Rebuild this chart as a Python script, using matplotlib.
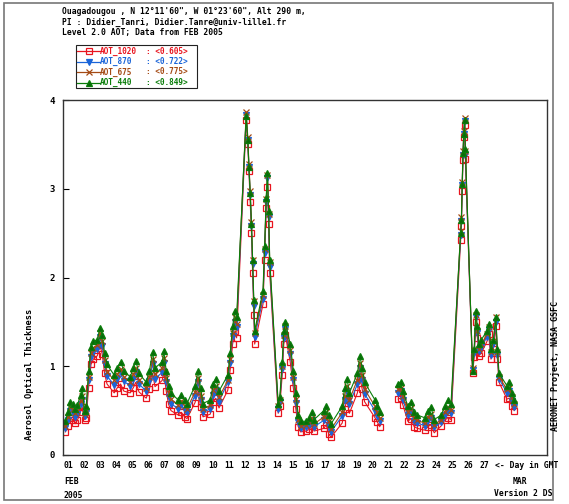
import numpy as np
import matplotlib
matplotlib.use("Agg")
import matplotlib.pyplot as plt
from matplotlib.patches import Rectangle

# time in days since 2005-02-01 00:00 GMT (NaN = data gap)
t = [0.15, 0.3, 0.45, 0.6, 0.75, 0.9,
     1.1, 1.2, 1.35, 1.45, 1.6, 1.75, 1.9,
     2.15, 2.3, 2.45, 2.6, 2.75,
     3.2, 3.4, 3.6, 3.8,
     4.2, 4.4, 4.55, 4.75,
     5.2, 5.4, 5.6, 5.75,
     6.2, 6.3, 6.45, 6.6, 6.75,
     7.2, 7.4, 7.6, 7.75,
     8.25, 8.45, 8.6, 8.75,
     9.2, 9.4, 9.55, 9.75,
     10.3, 10.45, 10.6, 10.75, 10.85,
     11.45, 11.55, 11.62, 11.7, 11.78, 11.85, 11.92, 11.98,
     12.5, 12.6, 12.7, 12.78, 12.85, 12.92,
     13.45, 13.55, 13.7, 13.8, 13.9,
     14.2, 14.4, 14.55, 14.7, 14.85,
     15.2, 15.4, 15.55, 15.7,
     16.3, 16.45, 16.6, 16.75,
     17.45, 17.6, 17.75, 17.9,
     18.4, 18.55, 18.7, 18.85,
     19.5, 19.65, 19.8,
     20.4,
     20.95, 21.1, 21.25,
     21.55, 21.75, 21.95, 22.15,
     22.6, 22.8, 23.0, 23.2,
     23.65, 23.85, 24.05, 24.25,
     24.85, 24.9, 24.95, 25.0, 25.05, 25.1, 25.15,
     25.6, 25.7, 25.8, 25.9, 26.0, 26.15,
     26.5, 26.6, 26.75, 26.9, 27.05, 27.15, 27.25,
     27.75, 27.9, 28.05, 28.2]

aot_440 = [0.38, 0.48, 0.60, 0.58, 0.52, 0.56,
           0.68, 0.75, 0.50, 0.55, 0.95, 1.22, 1.28,
           1.30, 1.43, 1.35, 1.15, 1.02,
           0.90, 0.98, 1.05, 0.95,
           0.88, 0.98, 1.06, 0.92,
           0.82, 0.95, 1.16, 0.98,
           1.05, 1.17, 0.95, 0.78, 0.70,
           0.62, 0.68, 0.62, 0.58,
           0.78, 0.95, 0.75, 0.58,
           0.62, 0.80, 0.86, 0.72,
           0.90, 1.15, 1.45, 1.62, 1.55,
           3.82, 3.55, 3.25, 2.95, 2.60, 2.20, 1.75, 1.40,
           1.85, 2.35, 2.90, 3.18, 2.75, 2.20,
           0.58, 0.65, 1.05, 1.40, 1.50,
           1.25, 0.95, 0.70, 0.45, 0.38,
           0.38, 0.42, 0.48, 0.40,
           0.50, 0.55, 0.45, 0.35,
           0.55, 0.75, 0.86, 0.70,
           0.92, 1.12, 0.98, 0.82,
           0.62, 0.55, 0.48,
           np.nan,
           0.80, 0.82, 0.72,
           0.55, 0.60, 0.48, 0.45,
           0.42, 0.50, 0.54, 0.40,
           0.45, 0.55, 0.62, 0.58,
           2.50, 2.65, 3.05, 3.40, 3.62, 3.78, 3.45,
           0.95, 1.20, 1.62, 1.45, 1.25, 1.30,
           1.40, 1.48, 1.20, 1.30, 1.55, 1.20, 0.92,
           0.78, 0.82, 0.70, 0.62]

aot_675 = [0.33, 0.43, 0.54, 0.52, 0.47, 0.50,
           0.61, 0.67, 0.46, 0.50, 0.88, 1.15, 1.21,
           1.24, 1.37, 1.28, 1.07, 0.94,
           0.84, 0.91, 0.97, 0.88,
           0.82, 0.91, 0.98, 0.85,
           0.76, 0.88, 1.08, 0.91,
           0.98, 1.09, 0.87, 0.70, 0.63,
           0.56, 0.61, 0.55, 0.52,
           0.71, 0.87, 0.67, 0.52,
           0.56, 0.73, 0.78, 0.65,
           0.84, 1.08, 1.38, 1.55, 1.48,
           3.86, 3.58, 3.28, 2.98, 2.62, 2.20, 1.73, 1.37,
           1.80, 2.32, 2.88, 3.15, 2.72, 2.17,
           0.55, 0.62, 1.00, 1.35, 1.45,
           1.18, 0.88, 0.63, 0.40, 0.33,
           0.34, 0.37, 0.42, 0.35,
           0.43, 0.48, 0.38, 0.29,
           0.48, 0.67, 0.78, 0.62,
           0.85, 1.04, 0.90, 0.74,
           0.55, 0.48, 0.42,
           np.nan,
           0.74, 0.76, 0.66,
           0.49, 0.53, 0.42, 0.39,
           0.36, 0.43, 0.46, 0.34,
           0.40, 0.48, 0.54, 0.51,
           2.52, 2.68, 3.08, 3.42, 3.65, 3.80, 3.42,
           0.98, 1.18, 1.58, 1.40, 1.20, 1.25,
           1.36, 1.44, 1.16, 1.28, 1.55, 1.16, 0.88,
           0.74, 0.76, 0.65, 0.57]

aot_870 = [0.30, 0.40, 0.50, 0.48, 0.43, 0.46,
           0.57, 0.62, 0.44, 0.47, 0.84, 1.10, 1.16,
           1.20, 1.33, 1.23, 1.02, 0.89,
           0.79, 0.86, 0.92, 0.83,
           0.78, 0.86, 0.93, 0.80,
           0.72, 0.83, 1.03, 0.86,
           0.93, 1.04, 0.82, 0.65, 0.58,
           0.52, 0.57, 0.51, 0.48,
           0.67, 0.82, 0.62, 0.48,
           0.52, 0.68, 0.73, 0.60,
           0.82, 1.04, 1.34, 1.50, 1.44,
           3.83, 3.55, 3.24, 2.93, 2.58, 2.15, 1.68, 1.33,
           1.76, 2.28, 2.85, 3.12, 2.68, 2.12,
           0.52, 0.60, 0.97, 1.32, 1.42,
           1.14, 0.84, 0.59, 0.37, 0.30,
           0.31, 0.34, 0.39, 0.32,
           0.39, 0.43, 0.33, 0.26,
           0.44, 0.62, 0.72, 0.57,
           0.80, 0.98, 0.85, 0.69,
           0.50, 0.44, 0.38,
           np.nan,
           0.70, 0.72, 0.62,
           0.45, 0.49, 0.38, 0.36,
           0.33, 0.39, 0.42, 0.31,
           0.37, 0.45, 0.50, 0.47,
           2.48, 2.64, 3.04, 3.38, 3.62, 3.76, 3.38,
           0.96, 1.15, 1.55, 1.37, 1.17, 1.22,
           1.33, 1.41, 1.13, 1.25, 1.50, 1.13, 0.86,
           0.70, 0.72, 0.61, 0.54]

aot_1020 = [0.26, 0.33, 0.42, 0.40, 0.36, 0.39,
            0.49, 0.54, 0.40, 0.42, 0.76, 1.02, 1.08,
            1.12, 1.24, 1.14, 0.92, 0.80,
            0.70, 0.76, 0.80, 0.72,
            0.70, 0.76, 0.82, 0.71,
            0.64, 0.74, 0.92, 0.77,
            0.84, 0.94, 0.72, 0.57, 0.50,
            0.45, 0.48, 0.43, 0.41,
            0.59, 0.72, 0.54, 0.43,
            0.46, 0.60, 0.64, 0.53,
            0.73, 0.96, 1.25, 1.40, 1.32,
            3.78, 3.50, 3.20, 2.85, 2.50, 2.05, 1.58, 1.25,
            1.70, 2.20, 2.78, 3.02, 2.60, 2.05,
            0.47, 0.55, 0.90, 1.25, 1.35,
            1.05, 0.75, 0.52, 0.32, 0.26,
            0.27, 0.29, 0.33, 0.27,
            0.30, 0.34, 0.24, 0.20,
            0.36, 0.52, 0.62, 0.47,
            0.70, 0.88, 0.74, 0.60,
            0.42, 0.37, 0.32,
            np.nan,
            0.63, 0.64, 0.56,
            0.38, 0.41, 0.32, 0.30,
            0.28, 0.32, 0.34, 0.25,
            0.33, 0.39, 0.42, 0.40,
            2.42, 2.58, 2.98, 3.32, 3.58, 3.72, 3.33,
            0.92, 1.10, 1.50, 1.32, 1.12, 1.15,
            1.28, 1.36, 1.08, 1.20, 1.45, 1.08, 0.82,
            0.63, 0.64, 0.55, 0.50]

series_names = ["AOT_1020", "AOT_870", "AOT_675", "AOT_440"]
series_means = ["0.605", "0.722", "0.775", "0.849"]
day_labels = ["01", "02", "03", "04", "05", "06", "07", "08", "09", "10",
              "11", "12", "13", "14", "15", "16", "17", "18", "19", "20",
              "21", "22", "23", "24", "25", "26", "27"]
y_ticks = [0, 1, 2, 3, 4]

title_lines = ["Ouagadougou , N 12\u00b011'60\", W 01\u00b023'60\", Alt 290 m,",
               "PI : Didier_Tanri, Didier.Tanre@univ-lille1.fr",
               "Level 2.0 AOT; Data from FEB 2005"]

colors = ["#e8141e", "#1a64d8", "#a44a14", "#0a7d0a"]
markers = ["s", "v", "x", "^"]
mfc = ["none", "#1a64d8", "#a44a14", "#0a6a0a"]

W, H = 569, 504
fig = plt.figure(figsize=(W / 100, H / 100), dpi=100)
mono = "DejaVu Sans Mono"
FS = 5.8

def fx(px):
    return px / W

def fy(py):
    return 1 - py / H

ax = fig.add_axes([fx(63), fy(455), fx(547) - fx(63), fy(100) - fy(455)])
series = [aot_1020, aot_870, aot_675, aot_440]
for vals, c, m, f in zip(series, colors, markers, mfc):
    ax.plot(t, vals, color=c, lw=0.8, marker=m, ms=4.4, mfc=f, mec=c,
            mew=0.9)

ax.set_xlim(0, 30.25)
ax.set_ylim(0, 4)
ax.set_yticks(y_ticks)
ax.set_yticklabels([str(v) for v in y_ticks], fontsize=6.5,
                   fontweight="bold", family=mono)
ax.tick_params(axis="y", direction="in", length=4, pad=6)
ax.set_xticks([])
for s in ax.spines.values():
    s.set_linewidth(1.0)
    s.set_color("#333333")

# day labels
for i, lab in enumerate(day_labels):
    ax.text(i + 0.05, -0.018, lab, transform=ax.get_xaxis_transform(),
            ha="left", va="top", fontsize=FS, fontweight="bold",
            family=mono)
fig.text(fx(495), fy(466), "<- Day in GMT", fontsize=FS, fontweight="bold",
         family=mono, va="center", ha="left")
fig.text(fx(64), fy(482), "FEB", fontsize=FS, fontweight="bold",
         family=mono, va="center", ha="left")
fig.text(fx(64), fy(495), "2005", fontsize=FS, fontweight="bold",
         family=mono, va="center", ha="left")
fig.text(fx(513), fy(481), "MAR", fontsize=FS, fontweight="bold",
         family=mono, va="center", ha="left")
fig.text(fx(552), fy(494), "Version 2 DS", fontsize=FS,
         fontweight="bold", family=mono, va="center", ha="right")

# axis label and side text
fig.text(fx(30), fy(374), "Aerosol Optical Thickness", rotation=90,
         fontsize=6.3, fontweight="bold", family=mono, ha="center",
         va="center")
fig.text(fx(556), fy(366), "AERONET Project, NASA GSFC", rotation=90,
         fontsize=6.0, fontweight="bold", family=mono, ha="center",
         va="center")

# title lines
for k, line in enumerate(title_lines):
    fig.text(fx(62), fy(12 + 10.5 * k), line, fontsize=FS,
             fontweight="bold", family=mono, ha="left", va="center")

# legend box
fig.add_artist(Rectangle((fx(76), fy(88)), fx(197) - fx(76), fy(45) - fy(88),
                         transform=fig.transFigure, fill=False,
                         ec="#222222", lw=0.8))
for k, (name, mean) in enumerate(zip(series_names, series_means)):
    yy = fy(51 + 10.5 * k)
    c = colors[k]
    fig.add_artist(plt.Line2D([fx(77), fx(100)], [yy, yy], color=c, lw=0.9,
                              transform=fig.transFigure))
    fig.add_artist(plt.Line2D([fx(89)], [yy], color=c, marker=markers[k],
                              ms=5, mfc=mfc[k], mec=c, mew=0.9,
                              transform=fig.transFigure))
    fig.text(fx(100), yy, name, color=c, fontsize=5.6, fontweight="bold",
             family=mono, ha="left", va="center")
    fig.text(fx(146), yy, ": <" + mean + ">", color=c, fontsize=5.6,
             fontweight="bold", family=mono, ha="left", va="center")

# outer frame
fig.add_artist(Rectangle((fx(4), fy(500)), fx(553) - fx(4), fy(3) - fy(500),
                         transform=fig.transFigure, fill=False,
                         ec="#777777", lw=1.2))

fig.savefig("out.png", dpi=100)
